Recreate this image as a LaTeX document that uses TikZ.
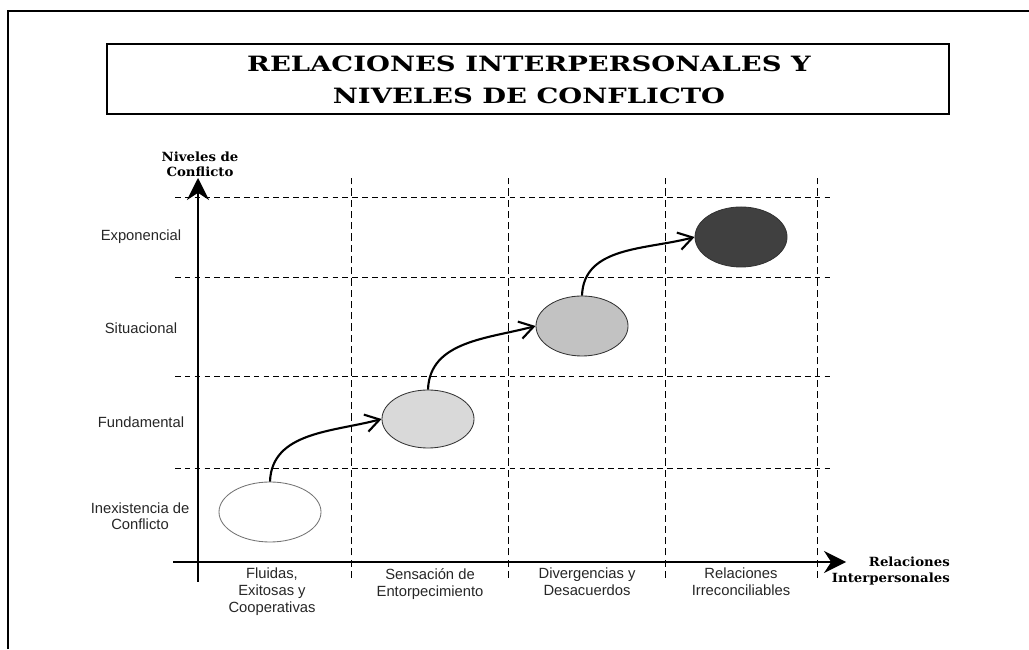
\documentclass[tikz,border=0pt]{standalone}
\usepackage{fontspec}
\setmainfont{Liberation Sans}
\newfontfamily\titlefont[FakeStretch=1.3]{DejaVu Serif}
\newfontfamily\axisfont[FakeStretch=1.05]{DejaVu Serif}
\usepackage{tikz}
\usetikzlibrary{arrows.meta,positioning,shapes.geometric}

\begin{document}
\begin{tikzpicture}[x=0.025cm,y=0.025cm,
    hgrid/.style={line width=0.6pt, dash pattern=on 4pt off 3pt},
    vgrid/.style={line width=0.7pt, dash pattern=on 5pt off 3pt},
    axis/.style={line width=1.6pt, -{Stealth[length=5.5mm,width=5.5mm,inset=1.8mm]}},
    axislabel/.style={font=\axisfont\bfseries\fontsize{9}{10.7}\selectfont, align=center, inner sep=0pt},
    rowlabel/.style={font=\fontsize{10.5}{11.5}\selectfont, text=black!85, align=center, inner sep=0pt},
    collabel/.style={font=\fontsize{10.5}{12}\selectfont, text=black!85, align=center, anchor=north, inner sep=0pt},
    level/.style={ellipse, draw=black!80, line width=0.6pt, inner sep=0pt, minimum width=2.3cm, minimum height=1.5cm},
    jump/.style={line width=1.5pt, -{Straight Barb[length=3.5mm,width=4.4mm,line width=1.5pt]}}]
    \useasboundingbox (0,0) rectangle (1029,649);
    %Frame
    \draw[line width=1.2pt] (8,0) |- (1029,638);
    \draw[line width=0.8pt] (107,535) rectangle (949,605);
    \node[font=\titlefont\bfseries\fontsize{15}{22.7}\selectfont, align=center] (title) at (529,569) {RELACIONES INTERPERSONALES Y\\NIVELES DE CONFLICTO};
    %Grid
    \foreach \y in {452,372,273,181}
        \draw[hgrid] (175,\y) -- (832,\y);
    \foreach \x in {351,508,665,817}
        \draw[vgrid] (\x,71) -- (\x,471);
    %Axis
    \coordinate (y0) at (198,67);
    \coordinate (y1) at (198,471);
    \coordinate (x0) at (173,87);
    \coordinate (x1) at (846,87);
    \draw[axis] (y0) -- (y1);
    \draw[axis] (x0) -- (x1);
    \node[axislabel] (ylab) at (200,485) {Niveles de\\Conflicto};
    \node[axislabel, align=right, anchor=east] (xlab) at (950,78) {Relaciones\\Interpersonales};
    %Rows
    \node[rowlabel] (r4) at (141,412) {Exponencial};
    \node[rowlabel] (r3) at (141,321) {Situacional};
    \node[rowlabel] (r2) at (141,227) {Fundamental};
    \node[rowlabel] (r1) at (140,133) {Inexistencia de\\Conflicto};
    %Columns
    \node[collabel] (c1) at (272,81) {Fluidas,\\Exitosas y\\Cooperativas};
    \node[collabel] (c2) at (430,81) {Sensación de\\Entorpecimiento};
    \node[collabel] (c3) at (587,81) {Divergencias y\\Desacuerdos};
    \node[collabel] (c4) at (741,81) {Relaciones\\Irreconciliables};
    %Levels
    \node[level, draw=black!55, fill=white, minimum width=2.55cm] (e1) at (270,137) {};
    \node[level, fill=gray!30, minimum height=1.45cm] (e2) at (428,230) {};
    \node[level, fill=gray!48] (e3) at (582,323) {};
    \node[level, fill=black!75] (e4) at (741,412) {};
    %Arrows
    \draw[jump] (e1.north) to[out=88,in=195] (e2.west);
    \draw[jump] (e2.north) to[out=88,in=195] (e3.west);
    \draw[jump] (e3.north) to[out=88,in=195] (e4.west);
\end{tikzpicture}
\end{document}
